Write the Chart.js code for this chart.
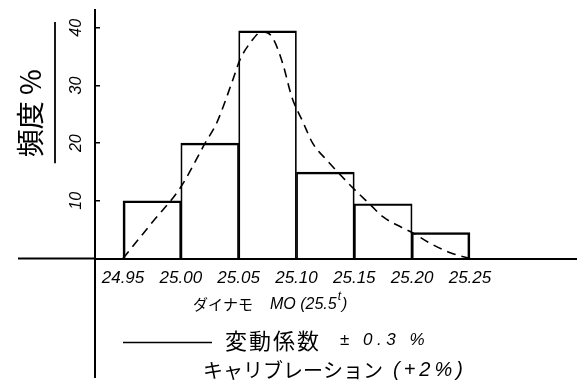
<!DOCTYPE html>
<html>
<head>
<meta charset="utf-8">
<script src="https://cdn.jsdelivr.net/npm/chart.js@4/dist/chart.umd.min.js"></script>
<style>
  html, body { margin: 0; padding: 0; background: #fff; }
  canvas { display: block; }
</style>
</head>
<body>
<canvas id="c" width="578" height="381"></canvas>
<script>
// Histogram classes: lower edge of each 0.05 class and frequency in %
const binStarts = [24.95, 25.00, 25.05, 25.10, 25.15, 25.20];
const binWidth = 0.05;
const frequency = [10, 20, 39.5, 15, 9.5, 4.5];

// Distribution curve drawn over the histogram (dashed)
const curveX = [24.950, 24.975, 25.000, 25.021, 25.031, 25.045, 25.051, 25.060, 25.070, 25.079,
                25.088, 25.096, 25.106, 25.114, 25.126, 25.138, 25.149, 25.164, 25.175, 25.190,
                25.201, 25.215, 25.233, 25.250];
const curveY = [0, 6.2, 12.4, 20.0, 23.5, 31.0, 34.4, 37.4, 39.3, 38.4,
                33.9, 28.0, 23.5, 20.0, 17.1, 14.5, 12.2, 9.3, 7.2, 5.5,
                4.4, 2.7, 1.0, 0];

// Axis ticks
const xTickLabels = ['24.95', '25.00', '25.05', '25.10', '25.15', '25.20', '25.25'];
const yTickValues = [10, 20, 30, 40];

// Texts
const yTitle = '頻度 %';
const xTitle = ['ダイナモ', 'MO (25.5', 't', ')'];
const noteCv = ['変動係数', '± 0.3 %'];
const noteCal = ['キャリブレーション', '(+2%)'];

const INK = '#000';
const LATIN = '"Liberation Sans", "DejaVu Sans", sans-serif';
const CJK = '"Noto Sans CJK JP", "Noto Sans", sans-serif';

// Extended axis lines, the rule beside the y title, and the text block under the axis
const decor = {
  id: 'decor',
  afterDraw(chart) {
    const { ctx, chartArea: a, scales: { y } } = chart;
    const y0 = y.getPixelForValue(0);
    ctx.save();
    ctx.strokeStyle = INK;
    ctx.lineWidth = 2;
    ctx.beginPath();
    ctx.moveTo(18, y0); ctx.lineTo(a.left, y0);
    ctx.moveTo(a.left, a.bottom); ctx.lineTo(a.left, chart.height - 3);
    ctx.stroke();

    ctx.lineWidth = 1.8;
    ctx.beginPath();
    ctx.moveTo(a.left - 40, y.getPixelForValue(41));
    ctx.lineTo(a.left - 40, y.getPixelForValue(16.5));
    ctx.stroke();

    ctx.fillStyle = INK;
    ctx.textBaseline = 'middle';
    ctx.textAlign = 'left';

    // x axis title
    let tx = a.left + 98, ty = a.bottom + 46;
    ctx.font = '15px ' + CJK;
    ctx.fillText(xTitle[0], tx, ty);
    tx = a.left + 175;
    ctx.font = 'italic 16px ' + LATIN;
    ctx.fillText(xTitle[1], tx, ty);
    tx += ctx.measureText(xTitle[1]).width + 1;
    ctx.font = 'italic 12px ' + LATIN;
    ctx.fillText(xTitle[2], tx, ty - 8);
    tx += ctx.measureText(xTitle[2]).width + 1;
    ctx.font = 'italic 16px ' + LATIN;
    ctx.fillText(xTitle[3], tx, ty);

    // coefficient of variation note with its solid rule
    ty = a.bottom + 82;
    ctx.lineWidth = 1.6;
    ctx.beginPath();
    ctx.moveTo(a.left + 28, ty + 2); ctx.lineTo(a.left + 117, ty + 2);
    ctx.stroke();
    ctx.font = '22px ' + CJK;
    ctx.letterSpacing = '2px';
    ctx.fillText(noteCv[0], a.left + 130, ty);
    ctx.font = 'italic 17px ' + LATIN;
    ctx.letterSpacing = '4.5px';
    ctx.fillText(noteCv[1], a.left + 245, ty);

    // calibration note
    ty = a.bottom + 112;
    ctx.font = '20px ' + CJK;
    ctx.letterSpacing = '0px';
    ctx.fillText(noteCal[0], a.left + 108, ty);
    ctx.font = 'italic 20px ' + LATIN;
    ctx.letterSpacing = '4px';
    ctx.fillText(noteCal[1], a.left + 298, ty);
    ctx.restore();
  }
};

const lastBin = binStarts.length - 1;

new Chart(document.getElementById('c'), {
  type: 'bar',
  data: {
    datasets: [
      {
        type: 'line',
        data: curveX.map((v, i) => ({ x: v, y: curveY[i] })),
        borderColor: INK,
        borderWidth: 1.6,
        borderDash: [9, 6],
        pointRadius: 0,
        cubicInterpolationMode: 'monotone',
        fill: false,
        order: 0
      },
      {
        type: 'bar',
        data: binStarts.map((s, i) => ({ x: s + binWidth / 2, y: frequency[i] })),
        backgroundColor: 'rgba(0,0,0,0)',
        borderColor: INK,
        borderWidth: (c) => ({
          top: 1.8,
          bottom: 0,
          left: c.dataIndex === 0 ? 2 : 1.1,
          right: c.dataIndex === lastBin ? 2 : 1.1
        }),
        borderSkipped: false,
        barPercentage: 1,
        categoryPercentage: 1,
        order: 1
      }
    ]
  },
  options: {
    responsive: false,
    animation: false,
    devicePixelRatio: 1,
    layout: { padding: { top: 10, right: 2, left: 0, bottom: 0 } },
    plugins: { legend: { display: false }, tooltip: { enabled: false } },
    scales: {
      x: {
        type: 'linear',
        min: 24.9258,
        max: 25.3417,
        offset: false,
        afterBuildTicks: (s) => { s.ticks = xTickLabels.map((t) => ({ value: parseFloat(t) })); },
        afterFit: (s) => {
          s.height = 122.5;
          s.paddingLeft = 0;
          s.paddingRight = 0;
        },
        ticks: {
          autoSkip: false,
          maxRotation: 0,
          padding: 10,
          color: INK,
          font: { family: LATIN, style: 'italic', size: 17 },
          callback: (v, i) => xTickLabels[i]
        },
        grid: { display: false, drawTicks: false },
        border: { color: INK, width: 2 }
      },
      y: {
        type: 'linear',
        min: 0,
        max: 43.1,
        afterBuildTicks: (s) => { s.ticks = yTickValues.map((v) => ({ value: v })); },
        afterFit: (s) => {
          s.width = 95;
          s.paddingTop = 0;
          s.paddingBottom = 0;
        },
        ticks: {
          minRotation: 90,
          maxRotation: 90,
          crossAlign: 'center',
          padding: 15,
          color: INK,
          font: { family: LATIN, style: 'italic', size: 16 }
        },
        grid: { drawOnChartArea: false, tickLength: -5, color: INK, lineWidth: 1.5 },
        border: { color: INK, width: 2 },
        title: {
          display: true,
          text: '\u3000\u2002' + yTitle,
          color: INK,
          font: { family: CJK, size: 28 },
          padding: { top: 14, bottom: 0 }
        }
      }
    }
  },
  plugins: [decor]
});
</script>
</body>
</html>
